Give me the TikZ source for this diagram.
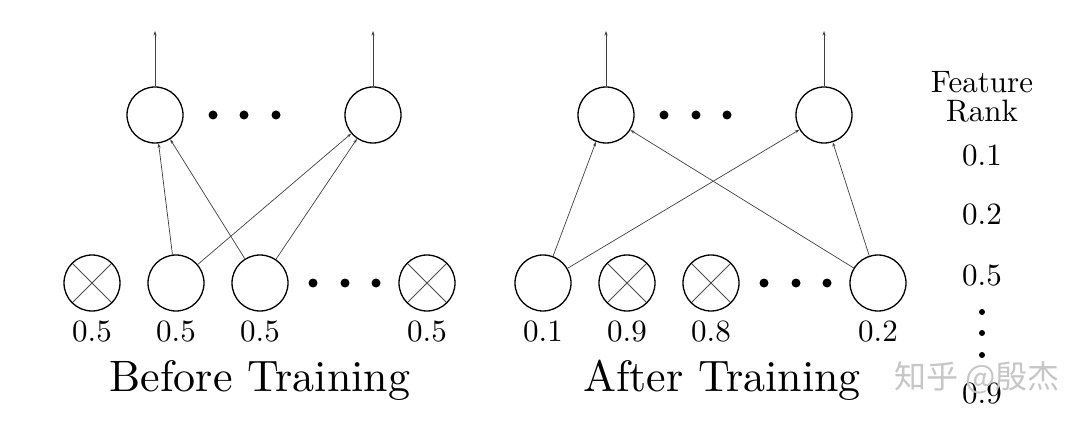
\documentclass[tikz,border=0pt]{standalone}
\usepackage{fontspec}
\setmainfont{lmroman10-regular}[Extension=.otf]
\newfontfamily\cjk{Noto Sans CJK SC}
\usetikzlibrary{arrows.meta}
\begin{document}
\begin{tikzpicture}[x=1pt,y=-1pt,
  neuron/.style={circle, draw, line width=1.3pt, minimum size=56pt, inner sep=0pt},
  dropped/.style={neuron, path picture={\draw[line width=0.8pt, black!70]
      (path picture bounding box.north west) -- (path picture bounding box.south east)
      (path picture bounding box.north east) -- (path picture bounding box.south west);}},
  conn/.style={-{Stealth[length=4.5pt,width=3pt]}, line width=0.7pt, black!75},
  bigdot/.style={circle, fill, inner sep=0pt, minimum size=9pt},
  smalldot/.style={circle, fill, inner sep=0pt, minimum size=6pt},
  num/.style={font=\fontsize{31}{36}\selectfont, anchor=base, inner sep=0pt},
  title/.style={font=\fontsize{44}{52}\selectfont, anchor=base, inner sep=0pt},
  wmark/.style={font=\cjk\fontsize{32}{32}\selectfont, text=gray!45, inner sep=0pt}
]
\useasboundingbox (0,0) rectangle (1090,422);

% ---------- Before Training ----------
\node[neuron] (lt1) at (155,115) {};
\node[neuron] (lt2) at (373,115) {};
\node[bigdot] (ltd1) at (213,115) {};
\node[bigdot] (ltd2) at (244,115) {};
\node[bigdot] (ltd3) at (276,115) {};
\coordinate (lo1) at (155,31);
\coordinate (lo2) at (373,31);
\draw[conn] (lt1) -- (lo1);
\draw[conn] (lt2) -- (lo2);

\node[dropped] (lb1) at (92,283) {};
\node[neuron] (lb2) at (176,283) {};
\node[neuron] (lb3) at (260,283) {};
\node[bigdot] (lbd1) at (313,283) {};
\node[bigdot] (lbd2) at (345,283) {};
\node[bigdot] (lbd3) at (376,283) {};
\node[dropped] (lb4) at (427,283) {};

\draw[conn] (lb2) -- (lt1);
\draw[conn] (lb3) -- (lt1);
\draw[conn] (lb2) -- (lt2);
\draw[conn] (lb3) -- (lt2);

\node[num] (lv1) at (92,341) {0.5};
\node[num] (lv2) at (176,341) {0.5};
\node[num] (lv3) at (260,341) {0.5};
\node[num] (lv4) at (427,341) {0.5};
\node[title] (ltitle) at (260,391) {Before Training};

% ---------- After Training ----------
\node[neuron] (rt1) at (606,115) {};
\node[neuron] (rt2) at (824,115) {};
\node[bigdot] (rtd1) at (664,115) {};
\node[bigdot] (rtd2) at (696,115) {};
\node[bigdot] (rtd3) at (727,115) {};
\coordinate (ro1) at (606,31);
\coordinate (ro2) at (824,31);
\draw[conn] (rt1) -- (ro1);
\draw[conn] (rt2) -- (ro2);

\node[neuron] (rb1) at (543,283) {};
\node[dropped] (rb2) at (627,283) {};
\node[dropped] (rb3) at (711,283) {};
\node[bigdot] (rbd1) at (764,283) {};
\node[bigdot] (rbd2) at (796,283) {};
\node[bigdot] (rbd3) at (827,283) {};
\node[neuron] (rb4) at (878,283) {};

\draw[conn] (rb1) -- (rt1);
\draw[conn] (rb1) -- (rt2);
\draw[conn] (rb4) -- (rt1);
\draw[conn] (rb4) -- (rt2);

\node[num] (rv1) at (543,341) {0.1};
\node[num] (rv2) at (627,341) {0.9};
\node[num] (rv3) at (711,341) {0.8};
\node[num] (rv4) at (878,341) {0.2};
\node[title] (rtitle) at (722,391) {After Training};

% ---------- Feature Rank ----------
\node[num] (fr1) at (982,93) {Feature};
\node[num] (fr2) at (982,122) {Rank};
\node[num] (fk1) at (982,166) {0.1};
\node[num] (fk2) at (982,225) {0.2};
\node[num] (fk3) at (982,285) {0.5};
\node[smalldot] (fd1) at (982,312) {};
\node[smalldot] (fd2) at (982,333) {};
\node[smalldot] (fd3) at (982,355) {};
\node[num] (fk4) at (982,403) {0.9};

% watermark
\node[wmark] (wm) at (977,378) {知乎 @殷杰};
\end{tikzpicture}
\end{document}
